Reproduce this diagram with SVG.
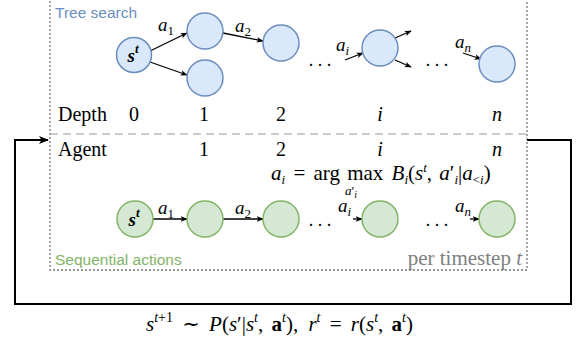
<svg xmlns="http://www.w3.org/2000/svg" width="576" height="341" viewBox="0 0 576 341">
<style>
.blue{fill:#dae8fc;stroke:#6c8ebf;stroke-width:1.5}
.green{fill:#d5e8d4;stroke:#82b366;stroke-width:1.5}
.e{stroke:#000;stroke-width:1.3;fill:none;marker-end:url(#ah)}
.m{font-family:"Liberation Serif","DejaVu Serif",serif;font-size:18px;fill:#000}
.r{font-size:20px}
.it{font-style:italic}
.st{font-family:"Liberation Serif",serif;font-size:19px;font-style:italic;font-weight:bold;text-anchor:middle}
.mid{text-anchor:middle}
.dots{font-family:"Liberation Serif",serif;font-size:18px;text-anchor:middle}
.lab{font-family:"Liberation Sans",Arial,sans-serif;font-size:15.5px}
</style>
<defs>
<marker id="ah" viewBox="0 0 10 10" refX="9" refY="5" markerWidth="7" markerHeight="7" markerUnits="userSpaceOnUse" orient="auto"><path d="M0,1 L10,5 L0,9 L2.5,5 Z" fill="#000"/></marker>
<marker id="ah2" viewBox="0 0 10 10" refX="9" refY="5" markerWidth="10" markerHeight="10" markerUnits="userSpaceOnUse" orient="auto"><path d="M0,1 L10,5 L0,9 L2.5,5 Z" fill="#000"/></marker>
</defs>
<rect x="50" y="-5" width="477" height="275" fill="none" stroke="#777" stroke-width="1.3" stroke-dasharray="2 2"/>
<line x1="50" y1="134" x2="527" y2="134" stroke="#999" stroke-width="1.2" stroke-dasharray="8 5"/>
<text x="55" y="18" class="lab" fill="#6c8ebf">Tree search</text>
<text x="55" y="265" class="lab" fill="#82b366">Sequential actions</text>
<text x="522" y="265" class="m" style="fill:#808080;font-size:21px" text-anchor="end">per timestep <tspan class="it">t</tspan></text>

<g id="connectors">
<path d="M527 140 H571 V304 H15 V140 H48" fill="none" stroke="#000" stroke-width="2" marker-end="url(#ah2)"/>
<line class="e" x1="150" y1="51" x2="187" y2="33"/>
<line class="e" x1="150" y1="62" x2="187" y2="75"/>
<line class="e" x1="223" y1="33" x2="263" y2="41"/>
<line class="e" x1="345" y1="60" x2="363" y2="53"/>
<line class="e" x1="395" y1="38" x2="411" y2="31"/>
<line class="e" x1="395" y1="60" x2="411" y2="67"/>
<line class="e" x1="463" y1="53" x2="481" y2="59"/>
<line class="e" x1="153" y1="219" x2="187" y2="219"/>
<line class="e" x1="223" y1="219" x2="263" y2="219"/>
<line class="e" x1="353" y1="219" x2="362" y2="219"/>
<line class="e" x1="470" y1="219" x2="479" y2="219"/>
</g>

<g id="t0"><circle class="blue" cx="134" cy="55" r="17.5"/><text class="st" x="133" y="62">s<tspan font-size="13" dy="-9">t</tspan></text></g>
<g id="t1a"><circle class="blue" cx="205" cy="31" r="18"/></g>
<g id="t1b"><circle class="blue" cx="205" cy="78" r="18"/></g>
<g id="t2"><circle class="blue" cx="281" cy="43" r="18"/></g>
<g id="ti"><circle class="blue" cx="380" cy="48" r="18"/></g>
<g id="tn"><circle class="blue" cx="497" cy="64" r="18"/></g>

<g id="treelabels" class="m">
<text x="158" y="31" class="it" font-size="19">a<tspan font-size="13" dy="4" font-style="normal">1</tspan></text>
<text x="235" y="32" class="it" font-size="19">a<tspan font-size="13" dy="4" font-style="normal">2</tspan></text>
<text x="336" y="51" class="it" font-size="19">a<tspan font-size="13" dy="4">i</tspan></text>
<text x="455" y="48" class="it" font-size="19">a<tspan font-size="13" dy="4">n</tspan></text>
<text x="320" y="66" class="dots">. . .</text>
<text x="437" y="66" class="dots">. . .</text>
</g>

<g id="depth" class="m r">
<text x="58" y="121">Depth</text>
<text x="134" y="121" class="mid">0</text>
<text x="204" y="121" class="mid">1</text>
<text x="281" y="121" class="mid">2</text>
<text x="380" y="121" class="mid it">i</text>
<text x="497" y="121" class="mid it">n</text>
<text x="58" y="156">Agent</text>
<text x="204" y="156" class="mid">1</text>
<text x="281" y="156" class="mid">2</text>
<text x="380" y="156" class="mid it">i</text>
<text x="497" y="156" class="mid it">n</text>
</g>

<g id="eq" class="m" style="font-size:21px">
<text x="271" y="180"><tspan class="it">a</tspan><tspan font-size="13" class="it" dy="4">i</tspan><tspan dy="-4" dx="3"> = </tspan><tspan dx="3">arg </tspan><tspan dx="2">max </tspan><tspan class="it" dx="3">B</tspan><tspan font-size="13" class="it" dy="4">i</tspan><tspan dy="-4">(</tspan><tspan class="it">s</tspan><tspan font-size="13" class="it" dy="-8">t</tspan><tspan dy="8">, </tspan><tspan class="it" dx="2">a</tspan><tspan>′</tspan><tspan font-size="13" class="it" dy="4">i</tspan><tspan dy="-4">|</tspan><tspan class="it">a</tspan><tspan font-size="13" dy="4">&lt;</tspan><tspan font-size="13" class="it">i</tspan><tspan dy="-4">)</tspan></text>
<text x="345" y="195" font-size="13" class="it">a<tspan font-style="normal">′</tspan><tspan font-size="10" dy="3">i</tspan></text>
</g>

<g id="g0"><circle class="green" cx="135" cy="219" r="18"/><text class="st" x="134" y="226">s<tspan font-size="13" dy="-9">t</tspan></text></g>
<g id="g1"><circle class="green" cx="205" cy="219" r="18"/></g>
<g id="g2"><circle class="green" cx="281" cy="219" r="18"/></g>
<g id="gi"><circle class="green" cx="380" cy="219" r="18"/></g>
<g id="gn"><circle class="green" cx="497" cy="219" r="18"/></g>

<g id="seqlabels" class="m">
<text x="158" y="214" class="it" font-size="19">a<tspan font-size="13" dy="4" font-style="normal">1</tspan></text>
<text x="235" y="214" class="it" font-size="19">a<tspan font-size="13" dy="4" font-style="normal">2</tspan></text>
<text x="338" y="212" class="it" font-size="19">a<tspan font-size="13" dy="4">i</tspan></text>
<text x="455" y="212" class="it" font-size="19">a<tspan font-size="13" dy="4">n</tspan></text>
<text x="320" y="226" class="dots">. . .</text>
<text x="437" y="226" class="dots">. . .</text>
</g>

<text x="146" y="331" class="m" style="font-size:21px"><tspan class="it">s</tspan><tspan font-size="14" class="it" dy="-9">t</tspan><tspan font-size="14">+1</tspan><tspan dy="9" dx="4"> ∼ </tspan><tspan class="it" dx="4">P</tspan><tspan>(</tspan><tspan class="it">s</tspan><tspan>′|</tspan><tspan class="it">s</tspan><tspan font-size="14" class="it" dy="-9">t</tspan><tspan dy="9">, </tspan><tspan font-weight="bold" dx="3">a</tspan><tspan font-size="14" class="it" dy="-9">t</tspan><tspan dy="9">), </tspan><tspan class="it" dx="5">r</tspan><tspan font-size="14" class="it" dy="-9">t</tspan><tspan dy="9" dx="4"> = </tspan><tspan class="it" dx="4">r</tspan><tspan>(</tspan><tspan class="it">s</tspan><tspan font-size="14" class="it" dy="-9">t</tspan><tspan dy="9">, </tspan><tspan font-weight="bold" dx="3">a</tspan><tspan font-size="14" class="it" dy="-9">t</tspan><tspan dy="9">)</tspan></text>
</svg>
